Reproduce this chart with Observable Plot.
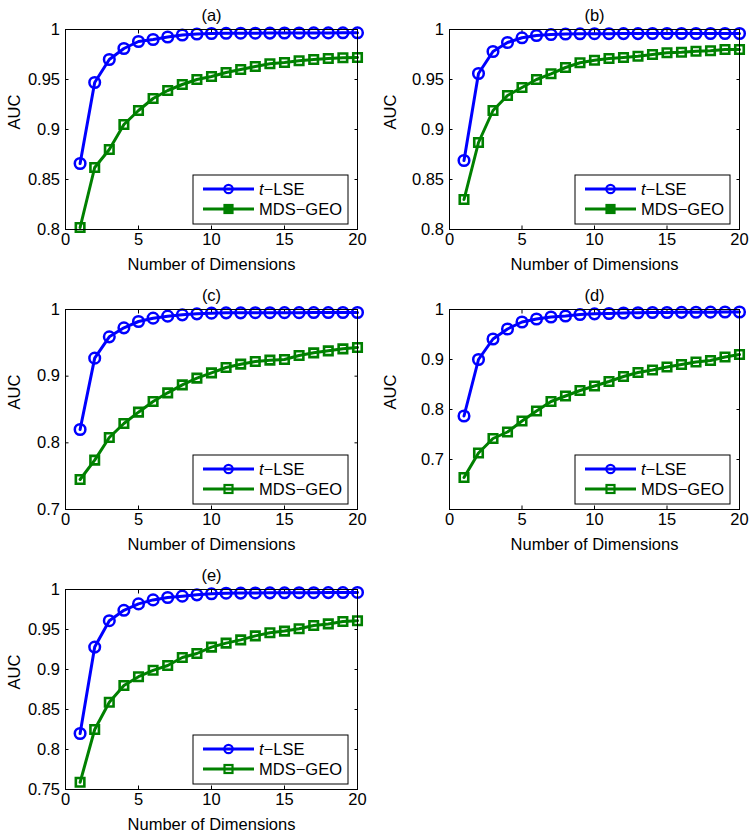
<!DOCTYPE html>
<html>
<head>
<meta charset="utf-8">
<script src="https://cdn.jsdelivr.net/npm/d3@7"></script>
<script src="https://cdn.jsdelivr.net/npm/@observablehq/plot@0.6"></script>
<style>
  html, body { margin: 0; padding: 0; background: #fff; }
  #root { position: relative; width: 752px; height: 834px; background: #fff; }
  #root svg { position: absolute; overflow: visible; }
  #root svg text { font-size: 16.5px; font-family: 'Liberation Sans', Arial, Helvetica, sans-serif; }
</style>
</head>
<body>
<div id="root"></div>
<script>
// ---- data ----
const dims = [1,2,3,4,5,6,7,8,9,10,11,12,13,14,15,16,17,18,19,20];
const seriesNames = ["t-LSE", "MDS-GEO"];
const panelTitles = ["(a)", "(b)", "(c)", "(d)", "(e)"];
const xTicks = [0, 5, 10, 15, 20];
const xLabel = "Number of Dimensions";
const yLabel = "AUC";

const tlseA = [0.866,0.947,0.970,0.981,0.988,0.990,0.9925,0.9945,0.9955,0.996,0.9962,0.9963,0.9963,0.9964,0.9965,0.9965,0.9966,0.9966,0.9967,0.9967];
const mdsA  = [0.802,0.862,0.880,0.905,0.919,0.931,0.939,0.945,0.950,0.953,0.957,0.960,0.963,0.9657,0.967,0.9687,0.970,0.971,0.9717,0.972];

const tlseB = [0.869,0.956,0.978,0.987,0.9917,0.994,0.995,0.9955,0.9957,0.9958,0.9958,0.9959,0.9959,0.996,0.996,0.996,0.996,0.996,0.996,0.996];
const mdsB  = [0.830,0.887,0.919,0.934,0.942,0.950,0.9557,0.962,0.9667,0.9693,0.971,0.972,0.9733,0.975,0.9767,0.9773,0.9783,0.9787,0.980,0.980];

const tlseC = [0.820,0.927,0.959,0.9725,0.982,0.987,0.990,0.992,0.9935,0.9945,0.995,0.995,0.9952,0.9952,0.9953,0.9953,0.9954,0.9954,0.9955,0.9955];
const mdsC  = [0.745,0.774,0.808,0.829,0.846,0.862,0.875,0.887,0.897,0.905,0.913,0.918,0.922,0.924,0.925,0.931,0.935,0.938,0.941,0.943];

const tlseD = [0.787,0.900,0.941,0.961,0.975,0.981,0.985,0.987,0.990,0.9913,0.992,0.993,0.9935,0.994,0.994,0.9943,0.9945,0.9947,0.995,0.995];
const mdsD  = [0.664,0.713,0.742,0.755,0.777,0.797,0.816,0.827,0.838,0.847,0.856,0.866,0.874,0.879,0.885,0.890,0.895,0.898,0.905,0.910];

const tlseE = [0.820,0.928,0.961,0.974,0.982,0.987,0.990,0.9917,0.9933,0.9946,0.9954,0.9955,0.9957,0.9958,0.9959,0.996,0.996,0.9961,0.9962,0.9963];
const mdsE  = [0.759,0.825,0.859,0.880,0.891,0.899,0.905,0.915,0.920,0.928,0.933,0.937,0.942,0.946,0.948,0.951,0.955,0.957,0.960,0.961];

const yDomainAB = [0.8, 1];
const yTicksAB = [0.8, 0.85, 0.9, 0.95, 1];
const yDomainC = [0.7, 1];
const yTicksC = [0.7, 0.8, 0.9, 1];
const yDomainD = [0.6, 1];
const yTicksD = [0.7, 0.8, 0.9, 1];
const yDomainE = [0.75, 1];
const yTicksE = [0.75, 0.8, 0.85, 0.9, 0.95, 1];

// ---- layout / style ----
const BLUE = "#0000ff";
const GREEN = "#008000";
const FONT = "'Liberation Sans', Arial, Helvetica, sans-serif";
const FS = 16.5;

const panels = [
  {title: panelTitles[0], tlse: tlseA, mds: mdsA, yDomain: yDomainAB, yTicks: yTicksAB, left: 0,   top: 0,   mL: 65, mR: 19, filledLegend: true},
  {title: panelTitles[1], tlse: tlseB, mds: mdsB, yDomain: yDomainAB, yTicks: yTicksAB, left: 376, top: 0,   mL: 73, mR: 13, filledLegend: true},
  {title: panelTitles[2], tlse: tlseC, mds: mdsC, yDomain: yDomainC,  yTicks: yTicksC,  left: 0,   top: 280, mL: 65, mR: 19, filledLegend: false},
  {title: panelTitles[3], tlse: tlseD, mds: mdsD, yDomain: yDomainD,  yTicks: yTicksD,  left: 376, top: 280, mL: 73, mR: 13, filledLegend: false},
  {title: panelTitles[4], tlse: tlseE, mds: mdsE, yDomain: yDomainE,  yTicks: yTicksE,  left: 0,   top: 560, mL: 65, mR: 19, filledLegend: false}
];

const W = 376, H = 270, mT = 29, mB = 41;
const root = document.getElementById("root");

function drawLegend(svg, p) {
  const g = d3.select(svg).append("g")
    .attr("font-family", FONT).attr("font-size", FS + "px").attr("text-anchor", "start");
  const right = W - p.mR - 9, bottom = H - mB - 5;
  const w = 155, h = 49;
  const x0 = right - w, y0 = bottom - h;
  g.append("rect").attr("x", x0).attr("y", y0).attr("width", w).attr("height", h)
    .attr("fill", "#fff").attr("stroke", "#000").attr("stroke-width", 1);
  const rows = [
    {name: seriesNames[0], color: BLUE, y: y0 + 14, sym: "circle"},
    {name: seriesNames[1], color: GREEN, y: y0 + 34, sym: "square"}
  ];
  rows.forEach(r => {
    g.append("line").attr("x1", x0 + 10).attr("x2", x0 + 61).attr("y1", r.y).attr("y2", r.y)
      .attr("stroke", r.color).attr("stroke-width", 3);
    const cx = x0 + 35.5;
    if (r.sym === "circle") {
      g.append("circle").attr("cx", cx).attr("cy", r.y).attr("r", 4.2)
        .attr("fill", "none").attr("stroke", r.color).attr("stroke-width", 2.2);
    } else {
      const s = 8;
      g.append("rect").attr("x", cx - s/2).attr("y", r.y - s/2).attr("width", s).attr("height", s)
        .attr("fill", p.filledLegend ? r.color : "none").attr("stroke", r.color).attr("stroke-width", 2.2);
    }
    const t = g.append("text").attr("x", x0 + 66).attr("y", r.y).attr("dy", "0.36em")
      .attr("fill", "#000").attr("text-anchor", "start");
    if (r.name.startsWith("t-")) {
      t.append("tspan").attr("font-style", "italic").text("t");
      t.append("tspan").text("\u2212" + r.name.slice(2));
    } else {
      t.text(r.name.replace("-", "\u2212"));
    }
  });
}

const fmt = d => String(d);

panels.forEach(p => {
  const rows = dims.map((d, i) => ({dim: d, tlse: p.tlse[i], mds: p.mds[i]}));
  const chart = Plot.plot({
    width: W, height: H,
    marginTop: mT, marginBottom: mB, marginLeft: p.mL, marginRight: p.mR,
    style: {fontSize: FS + "px", fontFamily: FONT, background: "transparent", color: "#000"},
    x: {domain: [0, 20], axis: null},
    y: {domain: p.yDomain, axis: null},
    marks: [
      Plot.axisX({anchor: "bottom", ticks: xTicks, tickSize: -3.5, tickPadding: 7.5, tickFormat: fmt, label: null, strokeWidth: 1, fontSize: FS}),
      Plot.axisX({anchor: "top", ticks: xTicks, tickSize: -3.5, tickFormat: () => "", label: null, strokeWidth: 1}),
      Plot.axisY({anchor: "left", ticks: p.yTicks, tickSize: -3.5, tickPadding: 9, tickFormat: fmt, label: null, strokeWidth: 1, fontSize: FS}),
      Plot.axisY({anchor: "right", ticks: p.yTicks, tickSize: -3.5, tickFormat: () => "", label: null, strokeWidth: 1}),
      Plot.line(rows, {x: "dim", y: "mds", stroke: GREEN, strokeWidth: 3}),
      Plot.dot(rows, {x: "dim", y: "mds", symbol: "square", r: 4.8, stroke: GREEN, strokeWidth: 2.6, fill: "none"}),
      Plot.line(rows, {x: "dim", y: "tlse", stroke: BLUE, strokeWidth: 3}),
      Plot.dot(rows, {x: "dim", y: "tlse", r: 5.3, stroke: BLUE, strokeWidth: 2.5, fill: "none"}),
      Plot.frame({stroke: "#000", strokeWidth: 1}),
      Plot.text([p.title], {frameAnchor: "top", text: d => d, dy: -14, lineAnchor: "middle", fontSize: FS}),
      Plot.text([xLabel], {frameAnchor: "bottom", text: d => d, dy: 35.5, lineAnchor: "middle", fontSize: FS}),
      Plot.text([yLabel], {frameAnchor: "left", text: d => d, dx: -(p.mL - 14), rotate: -90, lineAnchor: "middle", fontSize: FS})
    ]
  });
  chart.style.left = p.left + "px";
  chart.style.top = p.top + "px";
  root.appendChild(chart);
  drawLegend(chart, p);
});
</script>
</body>
</html>
